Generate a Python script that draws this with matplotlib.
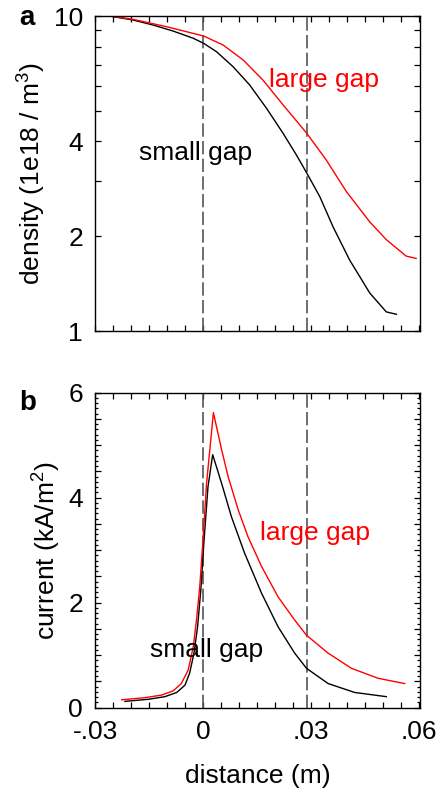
import matplotlib
matplotlib.use("Agg")
import matplotlib.pyplot as plt
from matplotlib.ticker import FixedLocator, FixedFormatter, MultipleLocator, NullFormatter

plt.rcParams["font.family"] = ["Liberation Sans", "DejaVu Sans"]
plt.rcParams["mathtext.fontset"] = "custom"
plt.rcParams["mathtext.rm"] = "Liberation Sans"
plt.rcParams["mathtext.default"] = "regular"

# panel a: density (1e18 / m^3)
dens_small_x = [-0.026, -0.0195, -0.0139, -0.0084, -0.0028, 0.0001, 0.0037, 0.0083, 0.0129,
                0.0176, 0.0222, 0.0259, 0.0288, 0.0324, 0.0361, 0.0407, 0.0463, 0.0509, 0.0537]
dens_small_y = [10.0, 9.71, 9.36, 8.96, 8.50, 8.19, 7.70, 6.90, 6.04,
                5.09, 4.24, 3.62, 3.17, 2.67, 2.14, 1.68, 1.32, 1.15, 1.13]
dens_large_x = [-0.026, -0.0195, -0.0102, 0.0001, 0.0055, 0.0111, 0.0166, 0.0222, 0.0288,
                0.0342, 0.0398, 0.0463, 0.0509, 0.0564, 0.0592]
dens_large_y = [10.0, 9.76, 9.25, 8.64, 8.09, 7.25, 6.26, 5.22, 4.24,
                3.49, 2.77, 2.22, 1.95, 1.73, 1.70]

# panel b: current (kA/m^2)
cur_small_x = [-0.0218, -0.0153, -0.0107, -0.0074, -0.0051, -0.0038, -0.0026, -0.0016,
               -0.0007, 0.0002, 0.0013, 0.0026, 0.0051, 0.0078, 0.0115, 0.0162, 0.0208,
               0.0254, 0.0287, 0.0347, 0.0421, 0.0509]
cur_small_y = [0.12, 0.16, 0.21, 0.29, 0.43, 0.66, 1.04, 1.54,
               2.24, 3.19, 4.21, 4.82, 4.27, 3.64, 2.94, 2.18, 1.54,
               1.04, 0.75, 0.46, 0.29, 0.21]
cur_large_x = [-0.0227, -0.0163, -0.0116, -0.0084, -0.0061, -0.0042, -0.0028, -0.0019,
               -0.001, -0.0001, 0.0009, 0.0018, 0.0028, 0.0051, 0.0069, 0.0097, 0.0124,
               0.0162, 0.0208, 0.0254, 0.0287, 0.0347, 0.0412, 0.0486, 0.056]
cur_large_y = [0.15, 0.19, 0.24, 0.32, 0.46, 0.72, 1.16, 1.67,
               2.30, 3.19, 4.27, 4.91, 5.62, 4.91, 4.40, 3.77, 3.26,
               2.69, 2.11, 1.67, 1.38, 1.04, 0.75, 0.56, 0.46]

gap_edges = [0.0, 0.0287]
x_ticks = [-0.03, 0.0, 0.03, 0.06]
x_labels = ["-.03", "0", ".03", ".06"]

fs = 19
fig = plt.figure(figsize=(4.4, 7.9), dpi=100)
ax1 = fig.add_axes([0.217, 0.581, 0.7386, 0.3987])
ax2 = fig.add_axes([0.217, 0.1042, 0.7386, 0.3987])

for ax in (ax1, ax2):
    for xv in gap_edges:
        ax.axvline(xv, color="#555555", lw=1.2, dashes=(8, 2.6))
    ax.set_xlim(-0.03, 0.0604)
    ax.tick_params(which="both", direction="in", top=True, right=True,
                   length=4, width=0.9, labelsize=fs, pad=9)
    ax.tick_params(which="minor", length=2.5)
    for s in ax.spines.values():
        s.set_linewidth(1.0)

major_x = [round(-0.03 + 0.005 * i, 3) for i in range(19)]

ax1.plot(dens_small_x, dens_small_y, color="black", lw=1)
ax1.plot(dens_large_x, dens_large_y, color="red", lw=1)
ax1.set_yscale("log")
ax1.set_ylim(1, 10)
ax1.yaxis.set_major_locator(FixedLocator(list(range(1, 11))))
ax1.yaxis.set_major_formatter(FixedFormatter(["1", "2", "", "4", "", "", "", "", "", "10"]))
ax1.yaxis.set_minor_formatter(NullFormatter())
ax1.xaxis.set_major_locator(FixedLocator(major_x))
ax1.xaxis.set_major_formatter(NullFormatter())
ax1.set_ylabel("density (1e18 / m$^3$)", fontsize=fs, labelpad=4)
ax1.text(0.0335, 5.95, "large gap", color="red", fontsize=fs, ha="center", va="baseline")
ax1.text(-0.0022, 3.49, "small gap", color="black", fontsize=fs, ha="center", va="baseline")
ax1.text(-0.21, 0.971, "a", transform=ax1.transAxes, fontsize=fs + 1, fontweight="bold",
         ha="center", va="baseline")

ax2.plot(cur_small_x, cur_small_y, color="black", lw=1)
ax2.plot(cur_large_x, cur_large_y, color="red", lw=1)
ax2.set_ylim(0, 6)
y2_ticks = [i * 0.5 for i in range(13)]
ax2.yaxis.set_major_locator(FixedLocator(y2_ticks))
ax2.yaxis.set_major_formatter(FixedFormatter(
    ["0", "", "", "", "2", "", "", "", "4", "", "", "", "6"]))
ax2.yaxis.set_minor_locator(MultipleLocator(0.1))
ax2.xaxis.set_major_locator(FixedLocator(major_x))
ax2.xaxis.set_major_formatter(FixedFormatter(
    [x_labels[x_ticks.index(v)] if v in x_ticks else "" for v in major_x]))
ax2.set_ylabel("current (kA/m$^2$)", fontsize=fs, labelpad=4)
ax2.set_xlabel("distance (m)", fontsize=fs, labelpad=14)
ax2.text(0.0312, 3.19, "large gap", color="red", fontsize=fs, ha="center", va="baseline")
ax2.text(0.001, 0.97, "small gap", color="black", fontsize=fs, ha="center", va="baseline")
ax2.text(-0.21, 0.945, "b", transform=ax2.transAxes, fontsize=fs + 1, fontweight="bold",
         ha="center", va="baseline")

fig.savefig("out.png", dpi=100)
